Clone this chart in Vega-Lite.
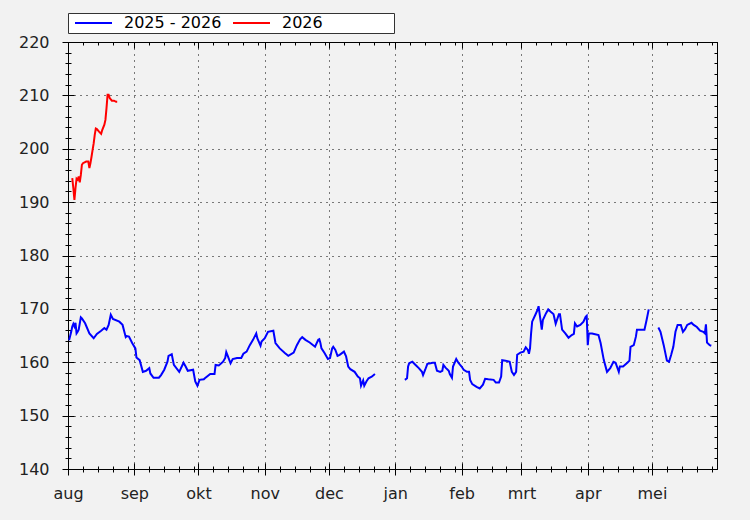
{
  "$schema": "https://vega.github.io/schema/vega-lite/v6.json",
  "width": 649,
  "height": 427,
  "autosize": {"type": "none"},
  "padding": {"left": 68, "top": 42, "right": 33, "bottom": 51},
  "background": "#f2f2f2",
  "data": {
    "values": [
      {"date": "2025-08-03", "value": 194.5, "series": "2026", "seg": "r"},
      {"date": "2025-08-03T12:00:00Z", "value": 192.6, "series": "2026", "seg": "r"},
      {"date": "2025-08-04", "value": 190.4, "series": "2026", "seg": "r"},
      {"date": "2025-08-04T12:00:00Z", "value": 192.6, "series": "2026", "seg": "r"},
      {"date": "2025-08-05", "value": 194.4, "series": "2026", "seg": "r"},
      {"date": "2025-08-05T12:00:00Z", "value": 194.2, "series": "2026", "seg": "r"},
      {"date": "2025-08-06", "value": 194.8, "series": "2026", "seg": "r"},
      {"date": "2025-08-06T12:00:00Z", "value": 193.7, "series": "2026", "seg": "r"},
      {"date": "2025-08-07", "value": 195.1, "series": "2026", "seg": "r"},
      {"date": "2025-08-07T12:00:00Z", "value": 197.0, "series": "2026", "seg": "r"},
      {"date": "2025-08-08", "value": 197.3, "series": "2026", "seg": "r"},
      {"date": "2025-08-09T12:00:00Z", "value": 197.6, "series": "2026", "seg": "r"},
      {"date": "2025-08-10T12:00:00Z", "value": 197.6, "series": "2026", "seg": "r"},
      {"date": "2025-08-11", "value": 196.4, "series": "2026", "seg": "r"},
      {"date": "2025-08-11T12:00:00Z", "value": 197.3, "series": "2026", "seg": "r"},
      {"date": "2025-08-12", "value": 198.5, "series": "2026", "seg": "r"},
      {"date": "2025-08-12T12:00:00Z", "value": 199.8, "series": "2026", "seg": "r"},
      {"date": "2025-08-13", "value": 201.0, "series": "2026", "seg": "r"},
      {"date": "2025-08-13T12:00:00Z", "value": 202.6, "series": "2026", "seg": "r"},
      {"date": "2025-08-14", "value": 203.8, "series": "2026", "seg": "r"},
      {"date": "2025-08-14T12:00:00Z", "value": 203.7, "series": "2026", "seg": "r"},
      {"date": "2025-08-15T12:00:00Z", "value": 203.2, "series": "2026", "seg": "r"},
      {"date": "2025-08-16T12:00:00Z", "value": 202.8, "series": "2026", "seg": "r"},
      {"date": "2025-08-17", "value": 203.5, "series": "2026", "seg": "r"},
      {"date": "2025-08-18", "value": 204.5, "series": "2026", "seg": "r"},
      {"date": "2025-08-18T12:00:00Z", "value": 205.4, "series": "2026", "seg": "r"},
      {"date": "2025-08-19", "value": 207.6, "series": "2026", "seg": "r"},
      {"date": "2025-08-19T12:00:00Z", "value": 210.1, "series": "2026", "seg": "r"},
      {"date": "2025-08-20", "value": 210.1, "series": "2026", "seg": "r"},
      {"date": "2025-08-20T12:00:00Z", "value": 209.5, "series": "2026", "seg": "r"},
      {"date": "2025-08-21T12:00:00Z", "value": 209.0, "series": "2026", "seg": "r"},
      {"date": "2025-08-22T12:00:00Z", "value": 209.0, "series": "2026", "seg": "r"},
      {"date": "2025-08-23T12:00:00Z", "value": 208.8, "series": "2026", "seg": "r"},
      {"date": "2025-08-24", "value": 208.8, "series": "2026", "seg": "r"},

      {"date": "2025-08-01T12:00:00Z", "value": 164.1, "series": "2025 - 2026", "seg": "a"},
      {"date": "2025-08-02T12:00:00Z", "value": 165.7, "series": "2025 - 2026", "seg": "a"},
      {"date": "2025-08-03", "value": 166.7, "series": "2025 - 2026", "seg": "a"},
      {"date": "2025-08-03T12:00:00Z", "value": 167.2, "series": "2025 - 2026", "seg": "a"},
      {"date": "2025-08-04", "value": 166.7, "series": "2025 - 2026", "seg": "a"},
      {"date": "2025-08-04T12:00:00Z", "value": 167.4, "series": "2025 - 2026", "seg": "a"},
      {"date": "2025-08-05", "value": 165.4, "series": "2025 - 2026", "seg": "a"},
      {"date": "2025-08-05T12:00:00Z", "value": 165.7, "series": "2025 - 2026", "seg": "a"},
      {"date": "2025-08-06", "value": 166.1, "series": "2025 - 2026", "seg": "a"},
      {"date": "2025-08-07", "value": 168.4, "series": "2025 - 2026", "seg": "a"},
      {"date": "2025-08-07T12:00:00Z", "value": 168.2, "series": "2025 - 2026", "seg": "a"},
      {"date": "2025-08-09", "value": 167.3, "series": "2025 - 2026", "seg": "a"},
      {"date": "2025-08-11", "value": 165.4, "series": "2025 - 2026", "seg": "a"},
      {"date": "2025-08-13", "value": 164.5, "series": "2025 - 2026", "seg": "a"},
      {"date": "2025-08-14T12:00:00Z", "value": 165.3, "series": "2025 - 2026", "seg": "a"},
      {"date": "2025-08-16T12:00:00Z", "value": 165.9, "series": "2025 - 2026", "seg": "a"},
      {"date": "2025-08-18", "value": 166.4, "series": "2025 - 2026", "seg": "a"},
      {"date": "2025-08-19", "value": 166.1, "series": "2025 - 2026", "seg": "a"},
      {"date": "2025-08-20", "value": 167.0, "series": "2025 - 2026", "seg": "a"},
      {"date": "2025-08-21", "value": 168.9, "series": "2025 - 2026", "seg": "a"},
      {"date": "2025-08-22", "value": 168.1, "series": "2025 - 2026", "seg": "a"},
      {"date": "2025-08-25", "value": 167.6, "series": "2025 - 2026", "seg": "a"},
      {"date": "2025-08-26T12:00:00Z", "value": 167.0, "series": "2025 - 2026", "seg": "a"},
      {"date": "2025-08-28", "value": 164.7, "series": "2025 - 2026", "seg": "a"},
      {"date": "2025-08-28T12:00:00Z", "value": 164.9, "series": "2025 - 2026", "seg": "a"},
      {"date": "2025-08-29T12:00:00Z", "value": 164.8, "series": "2025 - 2026", "seg": "a"},
      {"date": "2025-08-31", "value": 163.6, "series": "2025 - 2026", "seg": "a"},
      {"date": "2025-09-01T12:00:00Z", "value": 162.6, "series": "2025 - 2026", "seg": "a"},
      {"date": "2025-09-02", "value": 160.9, "series": "2025 - 2026", "seg": "a"},
      {"date": "2025-09-03T12:00:00Z", "value": 160.4, "series": "2025 - 2026", "seg": "a"},
      {"date": "2025-09-05", "value": 158.2, "series": "2025 - 2026", "seg": "a"},
      {"date": "2025-09-06T12:00:00Z", "value": 158.4, "series": "2025 - 2026", "seg": "a"},
      {"date": "2025-09-08", "value": 158.9, "series": "2025 - 2026", "seg": "a"},
      {"date": "2025-09-08T12:00:00Z", "value": 157.9, "series": "2025 - 2026", "seg": "a"},
      {"date": "2025-09-10", "value": 157.1, "series": "2025 - 2026", "seg": "a"},
      {"date": "2025-09-12T12:00:00Z", "value": 157.1, "series": "2025 - 2026", "seg": "a"},
      {"date": "2025-09-13T12:00:00Z", "value": 157.6, "series": "2025 - 2026", "seg": "a"},
      {"date": "2025-09-15", "value": 158.6, "series": "2025 - 2026", "seg": "a"},
      {"date": "2025-09-16T12:00:00Z", "value": 160.1, "series": "2025 - 2026", "seg": "a"},
      {"date": "2025-09-17", "value": 161.2, "series": "2025 - 2026", "seg": "a"},
      {"date": "2025-09-18T12:00:00Z", "value": 161.5, "series": "2025 - 2026", "seg": "a"},
      {"date": "2025-09-19T12:00:00Z", "value": 159.5, "series": "2025 - 2026", "seg": "a"},
      {"date": "2025-09-22", "value": 158.2, "series": "2025 - 2026", "seg": "a"},
      {"date": "2025-09-24", "value": 159.9, "series": "2025 - 2026", "seg": "a"},
      {"date": "2025-09-25", "value": 159.2, "series": "2025 - 2026", "seg": "a"},
      {"date": "2025-09-26", "value": 158.4, "series": "2025 - 2026", "seg": "a"},
      {"date": "2025-09-28T12:00:00Z", "value": 158.6, "series": "2025 - 2026", "seg": "a"},
      {"date": "2025-09-29T12:00:00Z", "value": 156.4, "series": "2025 - 2026", "seg": "a"},
      {"date": "2025-09-30T12:00:00Z", "value": 155.6, "series": "2025 - 2026", "seg": "a"},
      {"date": "2025-10-01T12:00:00Z", "value": 156.7, "series": "2025 - 2026", "seg": "a"},
      {"date": "2025-10-03T12:00:00Z", "value": 156.8, "series": "2025 - 2026", "seg": "a"},
      {"date": "2025-10-04", "value": 157.0, "series": "2025 - 2026", "seg": "a"},
      {"date": "2025-10-06T12:00:00Z", "value": 157.8, "series": "2025 - 2026", "seg": "a"},
      {"date": "2025-10-08T12:00:00Z", "value": 157.8, "series": "2025 - 2026", "seg": "a"},
      {"date": "2025-10-09", "value": 159.5, "series": "2025 - 2026", "seg": "a"},
      {"date": "2025-10-10T12:00:00Z", "value": 159.4, "series": "2025 - 2026", "seg": "a"},
      {"date": "2025-10-12T12:00:00Z", "value": 160.1, "series": "2025 - 2026", "seg": "a"},
      {"date": "2025-10-13T12:00:00Z", "value": 160.8, "series": "2025 - 2026", "seg": "a"},
      {"date": "2025-10-14", "value": 161.9, "series": "2025 - 2026", "seg": "a"},
      {"date": "2025-10-14T12:00:00Z", "value": 161.4, "series": "2025 - 2026", "seg": "a"},
      {"date": "2025-10-16", "value": 159.8, "series": "2025 - 2026", "seg": "a"},
      {"date": "2025-10-17", "value": 160.6, "series": "2025 - 2026", "seg": "a"},
      {"date": "2025-10-19", "value": 160.8, "series": "2025 - 2026", "seg": "a"},
      {"date": "2025-10-21", "value": 160.8, "series": "2025 - 2026", "seg": "a"},
      {"date": "2025-10-22", "value": 161.6, "series": "2025 - 2026", "seg": "a"},
      {"date": "2025-10-23T12:00:00Z", "value": 162.0, "series": "2025 - 2026", "seg": "a"},
      {"date": "2025-10-25", "value": 163.2, "series": "2025 - 2026", "seg": "a"},
      {"date": "2025-10-26T12:00:00Z", "value": 164.2, "series": "2025 - 2026", "seg": "a"},
      {"date": "2025-10-28", "value": 165.4, "series": "2025 - 2026", "seg": "a"},
      {"date": "2025-10-28T12:00:00Z", "value": 164.5, "series": "2025 - 2026", "seg": "a"},
      {"date": "2025-10-30", "value": 163.1, "series": "2025 - 2026", "seg": "a"},
      {"date": "2025-10-30T12:00:00Z", "value": 163.9, "series": "2025 - 2026", "seg": "a"},
      {"date": "2025-11-01", "value": 164.5, "series": "2025 - 2026", "seg": "a"},
      {"date": "2025-11-02T12:00:00Z", "value": 165.7, "series": "2025 - 2026", "seg": "a"},
      {"date": "2025-11-05", "value": 165.9, "series": "2025 - 2026", "seg": "a"},
      {"date": "2025-11-06", "value": 163.6, "series": "2025 - 2026", "seg": "a"},
      {"date": "2025-11-08", "value": 162.6, "series": "2025 - 2026", "seg": "a"},
      {"date": "2025-11-10T12:00:00Z", "value": 161.7, "series": "2025 - 2026", "seg": "a"},
      {"date": "2025-11-12", "value": 161.2, "series": "2025 - 2026", "seg": "a"},
      {"date": "2025-11-14T12:00:00Z", "value": 161.8, "series": "2025 - 2026", "seg": "a"},
      {"date": "2025-11-16", "value": 163.2, "series": "2025 - 2026", "seg": "a"},
      {"date": "2025-11-17T12:00:00Z", "value": 164.3, "series": "2025 - 2026", "seg": "a"},
      {"date": "2025-11-18T12:00:00Z", "value": 164.7, "series": "2025 - 2026", "seg": "a"},
      {"date": "2025-11-20", "value": 164.2, "series": "2025 - 2026", "seg": "a"},
      {"date": "2025-11-22", "value": 163.7, "series": "2025 - 2026", "seg": "a"},
      {"date": "2025-11-24T12:00:00Z", "value": 162.9, "series": "2025 - 2026", "seg": "a"},
      {"date": "2025-11-26", "value": 164.2, "series": "2025 - 2026", "seg": "a"},
      {"date": "2025-11-26T12:00:00Z", "value": 164.3, "series": "2025 - 2026", "seg": "a"},
      {"date": "2025-11-27", "value": 163.6, "series": "2025 - 2026", "seg": "a"},
      {"date": "2025-11-27T12:00:00Z", "value": 162.6, "series": "2025 - 2026", "seg": "a"},
      {"date": "2025-11-29", "value": 161.7, "series": "2025 - 2026", "seg": "a"},
      {"date": "2025-11-30T12:00:00Z", "value": 160.6, "series": "2025 - 2026", "seg": "a"},
      {"date": "2025-12-01T12:00:00Z", "value": 160.8, "series": "2025 - 2026", "seg": "a"},
      {"date": "2025-12-02T12:00:00Z", "value": 162.6, "series": "2025 - 2026", "seg": "a"},
      {"date": "2025-12-03", "value": 162.9, "series": "2025 - 2026", "seg": "a"},
      {"date": "2025-12-04", "value": 162.3, "series": "2025 - 2026", "seg": "a"},
      {"date": "2025-12-05", "value": 161.2, "series": "2025 - 2026", "seg": "a"},
      {"date": "2025-12-06", "value": 161.4, "series": "2025 - 2026", "seg": "a"},
      {"date": "2025-12-08", "value": 162.0, "series": "2025 - 2026", "seg": "a"},
      {"date": "2025-12-09", "value": 161.1, "series": "2025 - 2026", "seg": "a"},
      {"date": "2025-12-10", "value": 159.2, "series": "2025 - 2026", "seg": "a"},
      {"date": "2025-12-11", "value": 158.7, "series": "2025 - 2026", "seg": "a"},
      {"date": "2025-12-13", "value": 158.2, "series": "2025 - 2026", "seg": "a"},
      {"date": "2025-12-14T12:00:00Z", "value": 157.3, "series": "2025 - 2026", "seg": "a"},
      {"date": "2025-12-15T12:00:00Z", "value": 157.0, "series": "2025 - 2026", "seg": "a"},
      {"date": "2025-12-16", "value": 155.6, "series": "2025 - 2026", "seg": "a"},
      {"date": "2025-12-17", "value": 156.6, "series": "2025 - 2026", "seg": "a"},
      {"date": "2025-12-17T12:00:00Z", "value": 155.6, "series": "2025 - 2026", "seg": "a"},
      {"date": "2025-12-18T12:00:00Z", "value": 156.4, "series": "2025 - 2026", "seg": "a"},
      {"date": "2025-12-19T12:00:00Z", "value": 157.0, "series": "2025 - 2026", "seg": "a"},
      {"date": "2025-12-21", "value": 157.3, "series": "2025 - 2026", "seg": "a"},
      {"date": "2025-12-22T12:00:00Z", "value": 157.8, "series": "2025 - 2026", "seg": "a"},

      {"date": "2026-01-05T12:00:00Z", "value": 156.7, "series": "2025 - 2026", "seg": "b"},
      {"date": "2026-01-06T12:00:00Z", "value": 157.0, "series": "2025 - 2026", "seg": "b"},
      {"date": "2026-01-07", "value": 159.2, "series": "2025 - 2026", "seg": "b"},
      {"date": "2026-01-07T12:00:00Z", "value": 159.8, "series": "2025 - 2026", "seg": "b"},
      {"date": "2026-01-09", "value": 160.1, "series": "2025 - 2026", "seg": "b"},
      {"date": "2026-01-10T12:00:00Z", "value": 159.5, "series": "2025 - 2026", "seg": "b"},
      {"date": "2026-01-12", "value": 158.9, "series": "2025 - 2026", "seg": "b"},
      {"date": "2026-01-13T12:00:00Z", "value": 158.2, "series": "2025 - 2026", "seg": "b"},
      {"date": "2026-01-14", "value": 157.6, "series": "2025 - 2026", "seg": "b"},
      {"date": "2026-01-15", "value": 158.6, "series": "2025 - 2026", "seg": "b"},
      {"date": "2026-01-16", "value": 159.7, "series": "2025 - 2026", "seg": "b"},
      {"date": "2026-01-17T12:00:00Z", "value": 159.8, "series": "2025 - 2026", "seg": "b"},
      {"date": "2026-01-18T12:00:00Z", "value": 159.9, "series": "2025 - 2026", "seg": "b"},
      {"date": "2026-01-19T12:00:00Z", "value": 159.9, "series": "2025 - 2026", "seg": "b"},
      {"date": "2026-01-20T12:00:00Z", "value": 158.4, "series": "2025 - 2026", "seg": "b"},
      {"date": "2026-01-22", "value": 158.2, "series": "2025 - 2026", "seg": "b"},
      {"date": "2026-01-23", "value": 158.4, "series": "2025 - 2026", "seg": "b"},
      {"date": "2026-01-23T12:00:00Z", "value": 159.5, "series": "2025 - 2026", "seg": "b"},
      {"date": "2026-01-24T12:00:00Z", "value": 159.0, "series": "2025 - 2026", "seg": "b"},
      {"date": "2026-01-26", "value": 158.4, "series": "2025 - 2026", "seg": "b"},
      {"date": "2026-01-26T12:00:00Z", "value": 157.8, "series": "2025 - 2026", "seg": "b"},
      {"date": "2026-01-27T12:00:00Z", "value": 157.1, "series": "2025 - 2026", "seg": "b"},
      {"date": "2026-01-28", "value": 159.2, "series": "2025 - 2026", "seg": "b"},
      {"date": "2026-01-29T12:00:00Z", "value": 160.6, "series": "2025 - 2026", "seg": "b"},
      {"date": "2026-01-30T12:00:00Z", "value": 159.9, "series": "2025 - 2026", "seg": "b"},
      {"date": "2026-02-01", "value": 159.2, "series": "2025 - 2026", "seg": "b"},
      {"date": "2026-02-02", "value": 158.6, "series": "2025 - 2026", "seg": "b"},
      {"date": "2026-02-03T12:00:00Z", "value": 158.2, "series": "2025 - 2026", "seg": "b"},
      {"date": "2026-02-04T12:00:00Z", "value": 158.2, "series": "2025 - 2026", "seg": "b"},
      {"date": "2026-02-05", "value": 156.7, "series": "2025 - 2026", "seg": "b"},
      {"date": "2026-02-06", "value": 155.9, "series": "2025 - 2026", "seg": "b"},
      {"date": "2026-02-08", "value": 155.4, "series": "2025 - 2026", "seg": "b"},
      {"date": "2026-02-09T12:00:00Z", "value": 155.1, "series": "2025 - 2026", "seg": "b"},
      {"date": "2026-02-11", "value": 155.8, "series": "2025 - 2026", "seg": "b"},
      {"date": "2026-02-12", "value": 156.9, "series": "2025 - 2026", "seg": "b"},
      {"date": "2026-02-13T12:00:00Z", "value": 156.8, "series": "2025 - 2026", "seg": "b"},
      {"date": "2026-02-16", "value": 156.7, "series": "2025 - 2026", "seg": "b"},
      {"date": "2026-02-17", "value": 156.2, "series": "2025 - 2026", "seg": "b"},
      {"date": "2026-02-18T12:00:00Z", "value": 156.2, "series": "2025 - 2026", "seg": "b"},
      {"date": "2026-02-19T12:00:00Z", "value": 157.3, "series": "2025 - 2026", "seg": "b"},
      {"date": "2026-02-20", "value": 160.4, "series": "2025 - 2026", "seg": "b"},
      {"date": "2026-02-21T12:00:00Z", "value": 160.3, "series": "2025 - 2026", "seg": "b"},
      {"date": "2026-02-23T12:00:00Z", "value": 160.1, "series": "2025 - 2026", "seg": "b"},
      {"date": "2026-02-24T12:00:00Z", "value": 158.2, "series": "2025 - 2026", "seg": "b"},
      {"date": "2026-02-25T12:00:00Z", "value": 157.6, "series": "2025 - 2026", "seg": "b"},
      {"date": "2026-02-26T12:00:00Z", "value": 158.2, "series": "2025 - 2026", "seg": "b"},
      {"date": "2026-02-27", "value": 161.4, "series": "2025 - 2026", "seg": "b"},
      {"date": "2026-02-28T12:00:00Z", "value": 161.8, "series": "2025 - 2026", "seg": "b"},
      {"date": "2026-03-02", "value": 162.0, "series": "2025 - 2026", "seg": "b"},
      {"date": "2026-03-03", "value": 162.8, "series": "2025 - 2026", "seg": "b"},
      {"date": "2026-03-04", "value": 162.3, "series": "2025 - 2026", "seg": "b"},
      {"date": "2026-03-04T12:00:00Z", "value": 161.6, "series": "2025 - 2026", "seg": "b"},
      {"date": "2026-03-05", "value": 162.6, "series": "2025 - 2026", "seg": "b"},
      {"date": "2026-03-05T12:00:00Z", "value": 165.4, "series": "2025 - 2026", "seg": "b"},
      {"date": "2026-03-06", "value": 167.6, "series": "2025 - 2026", "seg": "b"},
      {"date": "2026-03-07T12:00:00Z", "value": 168.9, "series": "2025 - 2026", "seg": "b"},
      {"date": "2026-03-08T12:00:00Z", "value": 169.8, "series": "2025 - 2026", "seg": "b"},
      {"date": "2026-03-09", "value": 170.5, "series": "2025 - 2026", "seg": "b"},
      {"date": "2026-03-10", "value": 167.6, "series": "2025 - 2026", "seg": "b"},
      {"date": "2026-03-10T12:00:00Z", "value": 166.1, "series": "2025 - 2026", "seg": "b"},
      {"date": "2026-03-11", "value": 167.9, "series": "2025 - 2026", "seg": "b"},
      {"date": "2026-03-12T12:00:00Z", "value": 169.2, "series": "2025 - 2026", "seg": "b"},
      {"date": "2026-03-13T12:00:00Z", "value": 169.9, "series": "2025 - 2026", "seg": "b"},
      {"date": "2026-03-14T12:00:00Z", "value": 169.5, "series": "2025 - 2026", "seg": "b"},
      {"date": "2026-03-15T12:00:00Z", "value": 169.2, "series": "2025 - 2026", "seg": "b"},
      {"date": "2026-03-16", "value": 169.0, "series": "2025 - 2026", "seg": "b"},
      {"date": "2026-03-17", "value": 167.2, "series": "2025 - 2026", "seg": "b"},
      {"date": "2026-03-18T12:00:00Z", "value": 169.0, "series": "2025 - 2026", "seg": "b"},
      {"date": "2026-03-19", "value": 169.0, "series": "2025 - 2026", "seg": "b"},
      {"date": "2026-03-20", "value": 166.1, "series": "2025 - 2026", "seg": "b"},
      {"date": "2026-03-21T12:00:00Z", "value": 165.4, "series": "2025 - 2026", "seg": "b"},
      {"date": "2026-03-23", "value": 164.6, "series": "2025 - 2026", "seg": "b"},
      {"date": "2026-03-24T12:00:00Z", "value": 165.1, "series": "2025 - 2026", "seg": "b"},
      {"date": "2026-03-25T12:00:00Z", "value": 165.3, "series": "2025 - 2026", "seg": "b"},
      {"date": "2026-03-26", "value": 167.3, "series": "2025 - 2026", "seg": "b"},
      {"date": "2026-03-27", "value": 166.7, "series": "2025 - 2026", "seg": "b"},
      {"date": "2026-03-28T12:00:00Z", "value": 167.0, "series": "2025 - 2026", "seg": "b"},
      {"date": "2026-03-30", "value": 167.6, "series": "2025 - 2026", "seg": "b"},
      {"date": "2026-03-31", "value": 168.5, "series": "2025 - 2026", "seg": "b"},
      {"date": "2026-03-31T12:00:00Z", "value": 168.7, "series": "2025 - 2026", "seg": "b"},
      {"date": "2026-04-01", "value": 163.2, "series": "2025 - 2026", "seg": "b"},
      {"date": "2026-04-01T12:00:00Z", "value": 165.4, "series": "2025 - 2026", "seg": "b"},
      {"date": "2026-04-03", "value": 165.4, "series": "2025 - 2026", "seg": "b"},
      {"date": "2026-04-06", "value": 165.1, "series": "2025 - 2026", "seg": "b"},
      {"date": "2026-04-07", "value": 163.6, "series": "2025 - 2026", "seg": "b"},
      {"date": "2026-04-08T12:00:00Z", "value": 160.4, "series": "2025 - 2026", "seg": "b"},
      {"date": "2026-04-10", "value": 158.2, "series": "2025 - 2026", "seg": "b"},
      {"date": "2026-04-11T12:00:00Z", "value": 158.9, "series": "2025 - 2026", "seg": "b"},
      {"date": "2026-04-13", "value": 160.1, "series": "2025 - 2026", "seg": "b"},
      {"date": "2026-04-14", "value": 159.9, "series": "2025 - 2026", "seg": "b"},
      {"date": "2026-04-15T12:00:00Z", "value": 158.2, "series": "2025 - 2026", "seg": "b"},
      {"date": "2026-04-16", "value": 159.2, "series": "2025 - 2026", "seg": "b"},
      {"date": "2026-04-17T12:00:00Z", "value": 159.2, "series": "2025 - 2026", "seg": "b"},
      {"date": "2026-04-19T12:00:00Z", "value": 159.9, "series": "2025 - 2026", "seg": "b"},
      {"date": "2026-04-20T12:00:00Z", "value": 160.3, "series": "2025 - 2026", "seg": "b"},
      {"date": "2026-04-21", "value": 162.9, "series": "2025 - 2026", "seg": "b"},
      {"date": "2026-04-22T12:00:00Z", "value": 163.2, "series": "2025 - 2026", "seg": "b"},
      {"date": "2026-04-23T12:00:00Z", "value": 164.8, "series": "2025 - 2026", "seg": "b"},
      {"date": "2026-04-24", "value": 166.1, "series": "2025 - 2026", "seg": "b"},
      {"date": "2026-04-27T12:00:00Z", "value": 166.1, "series": "2025 - 2026", "seg": "b"},
      {"date": "2026-04-28T12:00:00Z", "value": 167.9, "series": "2025 - 2026", "seg": "b"},
      {"date": "2026-04-29T12:00:00Z", "value": 169.9, "series": "2025 - 2026", "seg": "b"},

      {"date": "2026-05-04", "value": 166.5, "series": "2025 - 2026", "seg": "c"},
      {"date": "2026-05-05", "value": 165.7, "series": "2025 - 2026", "seg": "c"},
      {"date": "2026-05-06T12:00:00Z", "value": 163.2, "series": "2025 - 2026", "seg": "c"},
      {"date": "2026-05-08", "value": 160.3, "series": "2025 - 2026", "seg": "c"},
      {"date": "2026-05-09", "value": 160.1, "series": "2025 - 2026", "seg": "c"},
      {"date": "2026-05-10", "value": 161.4, "series": "2025 - 2026", "seg": "c"},
      {"date": "2026-05-11", "value": 162.9, "series": "2025 - 2026", "seg": "c"},
      {"date": "2026-05-12", "value": 165.7, "series": "2025 - 2026", "seg": "c"},
      {"date": "2026-05-13", "value": 167.0, "series": "2025 - 2026", "seg": "c"},
      {"date": "2026-05-14T12:00:00Z", "value": 167.0, "series": "2025 - 2026", "seg": "c"},
      {"date": "2026-05-15T12:00:00Z", "value": 165.7, "series": "2025 - 2026", "seg": "c"},
      {"date": "2026-05-16T12:00:00Z", "value": 166.2, "series": "2025 - 2026", "seg": "c"},
      {"date": "2026-05-17T12:00:00Z", "value": 167.0, "series": "2025 - 2026", "seg": "c"},
      {"date": "2026-05-19T12:00:00Z", "value": 167.4, "series": "2025 - 2026", "seg": "c"},
      {"date": "2026-05-20T12:00:00Z", "value": 167.0, "series": "2025 - 2026", "seg": "c"},
      {"date": "2026-05-22", "value": 166.6, "series": "2025 - 2026", "seg": "c"},
      {"date": "2026-05-23T12:00:00Z", "value": 165.9, "series": "2025 - 2026", "seg": "c"},
      {"date": "2026-05-25", "value": 165.7, "series": "2025 - 2026", "seg": "c"},
      {"date": "2026-05-25T18:00:00Z", "value": 165.4, "series": "2025 - 2026", "seg": "c"},
      {"date": "2026-05-26T06:00:00Z", "value": 167.1, "series": "2025 - 2026", "seg": "c"},
      {"date": "2026-05-26T18:00:00Z", "value": 163.7, "series": "2025 - 2026", "seg": "c"},
      {"date": "2026-05-28", "value": 163.2, "series": "2025 - 2026", "seg": "c"},
      {"date": "2026-05-28T18:00:00Z", "value": 163.1, "series": "2025 - 2026", "seg": "c"}
    ]
  },
  "layer": [
    {
      "mark": {"type": "line", "strokeWidth": 2, "interpolate": "linear"},
      "encoding": {
        "x": {
          "field": "date",
          "type": "temporal",
          "scale": {
            "type": "utc",
            "domain": [
              {"year": 2025, "month": 8, "date": 1, "utc": true},
              {"year": 2026, "month": 5, "date": 31, "hours": 10, "utc": true}
            ]
          },
          "axis": {
            "orient": "bottom",
            "offset": -6,
            "tickSize": 12,
            "tickCount": {"interval": "month", "step": 1},
            "labelExpr": "['jan','feb','mrt','apr','mei','jun','jul','aug','sep','okt','nov','dec'][utcmonth(datum.value)]",
            "labelPadding": 10,
            "grid": true,
            "title": null
          }
        },
        "y": {
          "field": "value",
          "type": "quantitative",
          "scale": {"domain": [140, 220], "nice": false, "zero": false},
          "axis": {
            "orient": "left",
            "offset": -6,
            "tickSize": 12,
            "tickCount": 8,
            "labelPadding": 13,
            "grid": true,
            "title": null
          }
        },
        "color": {
          "field": "series",
          "type": "nominal",
          "scale": {"domain": ["2025 - 2026", "2026"], "range": ["#0000ff", "#ff0000"]},
          "legend": {
            "orient": "none",
            "legendX": 0,
            "legendY": -29,
            "direction": "horizontal",
            "title": "\u00a0",
            "titleOrient": "right",
            "titlePadding": 69,
            "titleFontSize": 16,
            "fillColor": "#ffffff",
            "strokeColor": "#333333",
            "padding": 2,
            "symbolType": "stroke",
            "symbolSize": 1369,
            "symbolStrokeWidth": 2,
            "symbolOffset": 4,
            "clipHeight": 16,
            "labelOffset": 11,
            "columnPadding": 6,
            "labelFont": "DejaVu Sans",
            "labelFontSize": 16,
            "labelColor": "#000000"
          }
        },
        "detail": {"field": "seg", "type": "nominal"}
      }
    },
    {
      "mark": {"type": "line", "strokeOpacity": 0},
      "encoding": {
        "x": {
          "field": "date",
          "type": "temporal",
          "axis": {
            "orient": "bottom",
            "offset": -3,
            "tickSize": 6,
            "tickCount": {"interval": "day", "step": 7},
            "labels": false,
            "grid": false,
            "title": null
          }
        },
        "y": {
          "field": "value",
          "type": "quantitative",
          "axis": {
            "orient": "left",
            "offset": -3,
            "tickSize": 6,
            "tickCount": 40,
            "labels": false,
            "grid": false,
            "title": null
          }
        }
      }
    },
    {
      "mark": {"type": "line", "strokeOpacity": 0},
      "encoding": {
        "x": {
          "field": "date",
          "type": "temporal",
          "axis": {
            "orient": "top",
            "offset": -6,
            "tickSize": 6,
            "tickCount": {"interval": "month", "step": 1},
            "labels": false,
            "grid": false,
            "title": null
          }
        },
        "y": {
          "field": "value",
          "type": "quantitative",
          "axis": {
            "orient": "right",
            "offset": -6,
            "tickSize": 6,
            "tickCount": 8,
            "labels": false,
            "grid": false,
            "title": null
          }
        }
      }
    },
    {
      "mark": {"type": "line", "strokeOpacity": 0},
      "encoding": {
        "x": {
          "field": "date",
          "type": "temporal",
          "axis": {
            "orient": "top",
            "offset": -3,
            "tickSize": 3,
            "tickCount": {"interval": "day", "step": 7},
            "labels": false,
            "grid": false,
            "title": null
          }
        },
        "y": {
          "field": "value",
          "type": "quantitative",
          "axis": {
            "orient": "right",
            "offset": -3,
            "tickSize": 3,
            "tickCount": 40,
            "labels": false,
            "grid": false,
            "title": null
          }
        }
      }
    }
  ],
  "resolve": {"axis": {"x": "independent", "y": "independent"}},
  "config": {
    "view": {"fill": "#f2f2f2", "stroke": "#000000", "strokeWidth": 1},
    "axis": {
      "domain": false,
      "tickColor": "#000000",
      "tickWidth": 1,
      "gridColor": "#000000",
      "gridDash": [1, 5],
      "gridWidth": 1,
      "gridOpacity": 1,
      "labelFont": "DejaVu Sans",
      "labelFontSize": 16,
      "labelColor": "#222222",
      "labelFlush": false,
      "labelOverlap": false,
      "labelBound": false
    },
    "legend": {"titleFont": "DejaVu Sans"}
  }
}
